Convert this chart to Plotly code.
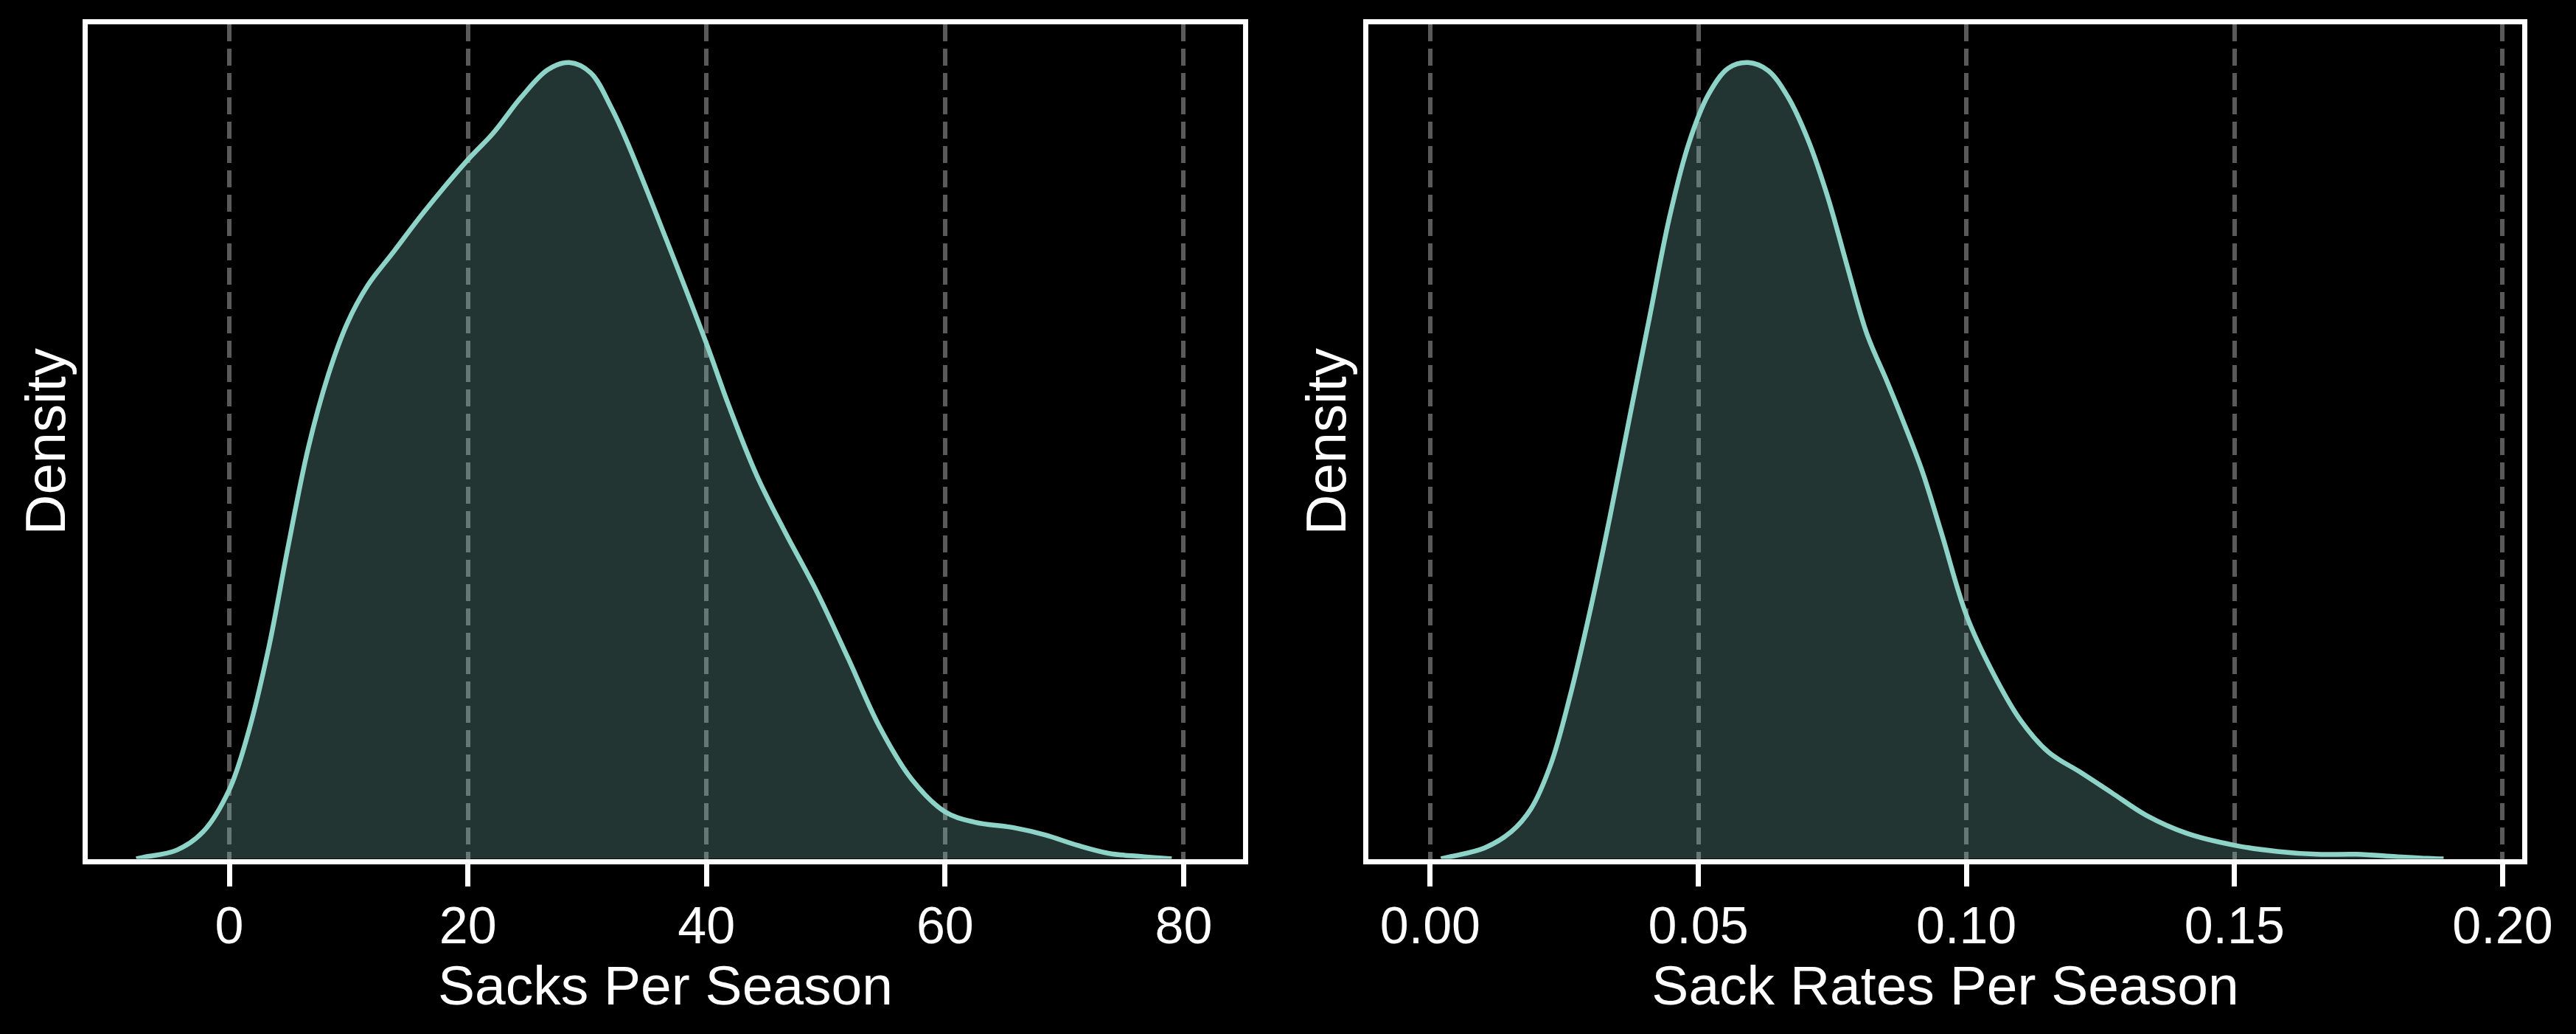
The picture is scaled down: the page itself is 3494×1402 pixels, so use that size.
import plotly.graph_objects as go

# KDE curve (density scaled so the peak is 1)
sacks_x = [-7.8, -7.2, -4.4, -2.2, 0, 1.6, 3.3, 4.9, 6.6, 8.3, 9.9, 11.6, 13.8, 16.3,
           20, 22.1, 24.5, 26.7, 28.5, 30.3, 32.0, 33.3, 36.6, 40, 41.9, 44.2, 46.6,
           49.2, 51.9, 54.5, 57.2, 60, 62.5, 65.8, 68.4, 71.1, 73.7, 76.4, 79.0]
sacks_y = [0, 0.002, 0.011, 0.034, 0.087, 0.159, 0.265, 0.39, 0.515, 0.608, 0.673, 0.72,
           0.763, 0.812, 0.878, 0.911, 0.957, 0.991, 1.0, 0.987, 0.944, 0.902, 0.779,
           0.647, 0.568, 0.482, 0.41, 0.337, 0.251, 0.166, 0.1, 0.059, 0.046, 0.039,
           0.03, 0.017, 0.007, 0.003, 0]

rate_x = [0.002, 0.004, 0.0102, 0.0151, 0.0188, 0.0225, 0.0261, 0.0298, 0.0335, 0.0372,
          0.0409, 0.0446, 0.0482, 0.0519, 0.0556, 0.0593, 0.063, 0.0667, 0.0704,
          0.0741, 0.0777, 0.0814, 0.0851, 0.088, 0.0917, 0.0954, 0.1, 0.105, 0.1101,
          0.1153, 0.1212, 0.1271, 0.1337, 0.1411, 0.15, 0.158, 0.1654, 0.1728,
          0.1801, 0.186, 0.189]
rate_y = [0, 0.003, 0.014, 0.034, 0.063, 0.119, 0.205, 0.311, 0.429, 0.555, 0.68,
          0.805, 0.898, 0.96, 0.993, 1.0, 0.99, 0.957, 0.904, 0.832, 0.746, 0.66,
          0.601, 0.553, 0.488, 0.408, 0.306, 0.233, 0.174, 0.134, 0.109, 0.083,
          0.054, 0.032, 0.017, 0.0093, 0.0057, 0.0057, 0.0028, 0.0006, 0]

sacks_ticks = [0, 20, 40, 60, 80]
rate_ticks = [0.0, 0.05, 0.10, 0.15, 0.20]
rate_labels = ["0.00", "0.05", "0.10", "0.15", "0.20"]

line_color = "#8dd3c7"
fill_color = "rgba(141,211,199,0.25)"
font_name = "Liberation Sans, Arial, sans-serif"

fig = go.Figure()
fig.add_trace(go.Scatter(x=sacks_x, y=sacks_y, mode="lines", fill="tozeroy",
                         line=dict(color=line_color, width=6.5, shape="spline", smoothing=1.0),
                         fillcolor=fill_color, xaxis="x", yaxis="y", showlegend=False))
fig.add_trace(go.Scatter(x=rate_x, y=rate_y, mode="lines", fill="tozeroy",
                         line=dict(color=line_color, width=6.5, shape="spline", smoothing=1.0),
                         fillcolor=fill_color, xaxis="x2", yaxis="y2", showlegend=False))

xstyle = dict(showline=True, linecolor="white", linewidth=7, mirror=True,
              ticks="outside", ticklen=30, tickwidth=7, tickcolor="white",
              ticklabelstandoff=-7,
              showgrid=True, gridcolor="#5a5a5a", gridwidth=6, griddash="23px,10px",
              zeroline=False, automargin=False,
              tickfont=dict(size=70, color="white", family=font_name))
ystyle = dict(showline=True, linecolor="white", linewidth=7, mirror=True,
              ticks="", showticklabels=False, showgrid=False, zeroline=False,
              automargin=False, range=[0, 1.048])

fig.update_layout(
    width=3494, height=1402,
    paper_bgcolor="black", plot_bgcolor="black",
    margin=dict(l=0, r=0, t=0, b=0),
    font=dict(family=font_name, color="white"),
    xaxis=dict(xstyle, domain=[0.0342, 0.4824], range=[-11.84, 84.95],
               tickvals=sacks_ticks,
               title=dict(text="Sacks Per Season", font=dict(size=75), standoff=13)),
    yaxis=dict(ystyle, domain=[0.1694, 0.9765],
               title=dict(text="Density", font=dict(size=76), standoff=1)),
    xaxis2=dict(xstyle, domain=[0.5313, 0.979], range=[-0.01149, 0.2036],
                tickvals=rate_ticks, ticktext=rate_labels, anchor="y2",
                title=dict(text="Sack Rates Per Season", font=dict(size=75), standoff=13)),
    yaxis2=dict(ystyle, domain=[0.1694, 0.9765], anchor="x2",
                title=dict(text="Density", font=dict(size=76), standoff=1)),
)

# drop the page's default body margin so the figure fills the window
page_js = ("document.body.style.margin='0';"
           "document.body.style.background='black';"
           "document.body.style.overflow='hidden';")
fig.write_html("out.html", post_script=page_js, config={"displayModeBar": False})
